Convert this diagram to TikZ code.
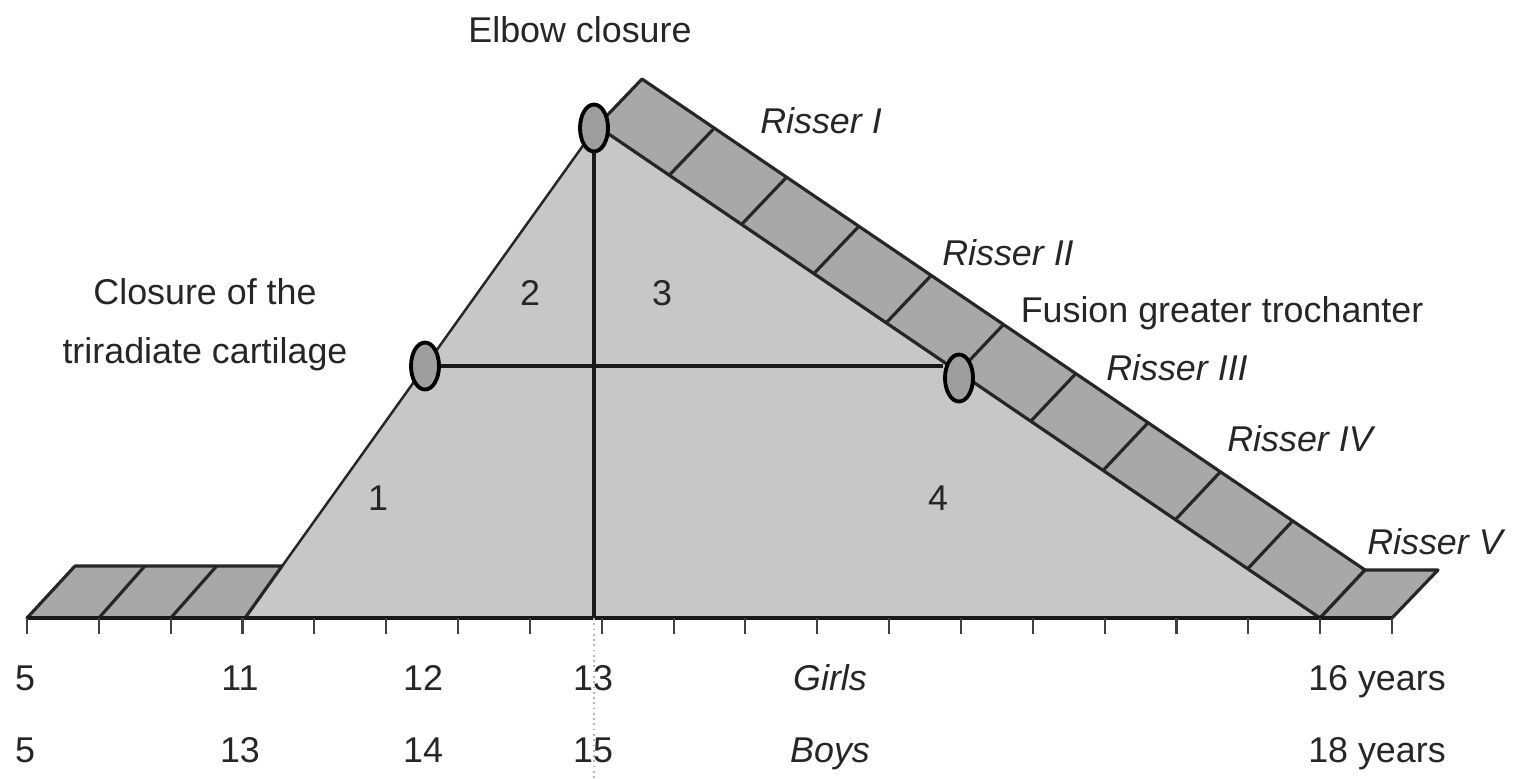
\documentclass[tikz,border=0pt]{standalone}
\usepackage{fontspec}
\setmainfont{Liberation Sans}
\usetikzlibrary{calc, shapes.geometric}

\begin{document}
\begin{tikzpicture}[
  font=\fontsize{10.2}{12.5}\selectfont,
  band/.style={fill=black!34, draw=black!85, line width=0.9pt, line join=round},
  cut/.style={black!85, line width=0.9pt},
  joint/.style={ellipse, draw=black, fill=black!38, line width=1.1pt, minimum width=0.28cm, minimum height=0.47cm, inner sep=0pt},
  bar/.style={black!90, line width=1.4pt},
  txt/.style={text=black!85, inner sep=0pt, text height=1.6ex, text depth=0.45ex},
  risser/.style={txt, font=\fontsize{10.2}{12.5}\selectfont\itshape}
]
\useasboundingbox (0,0) rectangle (15.13,7.78);

\coordinate (L) at (2.45,1.60);
\coordinate (T) at (5.97,6.52);
\coordinate (R) at (13.20,1.60);
\coordinate (Tu) at (6.42,6.99);
\coordinate (Ru) at (13.65,2.08);
\coordinate (o) at (0.27,1.60);
\coordinate (e) at (13.92,1.60);

\filldraw[fill=black!22, draw=black!85, line width=0.7pt] (L) -- (T) -- (R) -- cycle;
\filldraw[band] (o) -- ++(0.48,0.52) -- (2.82,2.12) -- (L) -- cycle;
\foreach \i in {1,2} \draw[cut] (0.27+0.7184*\i,1.60) -- ++(0.46,0.52);
\filldraw[band] (T) -- (Tu) -- (Ru) -- (R) -- cycle;
\foreach \i in {1,...,9} \draw[cut] ($(T)!\i/10!(R)$) -- ($(Tu)!\i/10!(Ru)$);
\filldraw[band] (R) -- (Ru) -- (14.38,2.08) -- (e) -- cycle;

\draw[bar] (o) -- (e);
\foreach \i in {0,...,19} \draw[black!75, line width=0.6pt] (0.27+0.7184*\i,1.60) -- ++(0,-0.16);

\node[joint] (tri) at (4.25,4.12) {};
\node[joint] (elb) at (5.94,6.50) {};
\node[joint] (fus) at (9.59,4.00) {};
\draw[bar] (tri) -- (tri -| fus.west);
\draw[bar] (elb) -- (elb |- o);
\draw[black!30, densely dotted, line width=0.5pt] (elb |- o) -- ++(0,-1.6);

\node[txt] (elbow) at (5.80,7.46) {Elbow closure};
\node[text=black!85, inner sep=0pt, align=center, font=\fontsize{10.2}{16.8}\selectfont] (tricl) at (2.05,4.53) {Closure of the\\triradiate cartilage};
\node[txt] (fusion) at (12.22,4.66) {Fusion greater trochanter};
\node[risser] (r1) at (8.21,6.55) {Risser I};
\node[risser] (r2) at (10.08,5.23) {Risser II};
\node[risser] (r3) at (11.77,4.08) {Risser III};
\node[risser] (r4) at (13.00,3.37) {Risser IV};
\node[risser] (r5) at (14.35,2.34) {Risser V};

\node[txt] (n1) at (3.78,2.78) {1};
\node[txt] (n2) at (5.30,4.83) {2};
\node[txt] (n3) at (6.62,4.83) {3};
\node[txt] (n4) at (9.38,2.78) {4};

\node[txt] (g5) at (0.25,0.98) {5};
\node[txt] (g11) at (2.40,0.98) {11};
\node[txt] (g12) at (4.23,0.98) {12};
\node[txt] (g13) at (5.93,0.98) {13};
\node[risser] (girls) at (8.30,0.98) {Girls};
\node[txt] (g16) at (13.77,0.98) {16 years};
\node[txt] (b5) at (0.25,0.26) {5};
\node[txt] (b13) at (2.40,0.26) {13};
\node[txt] (b14) at (4.23,0.26) {14};
\node[txt] (b15) at (5.93,0.26) {15};
\node[risser] (boys) at (8.30,0.26) {Boys};
\node[txt] (b18) at (13.77,0.26) {18 years};
\end{tikzpicture}
\end{document}
